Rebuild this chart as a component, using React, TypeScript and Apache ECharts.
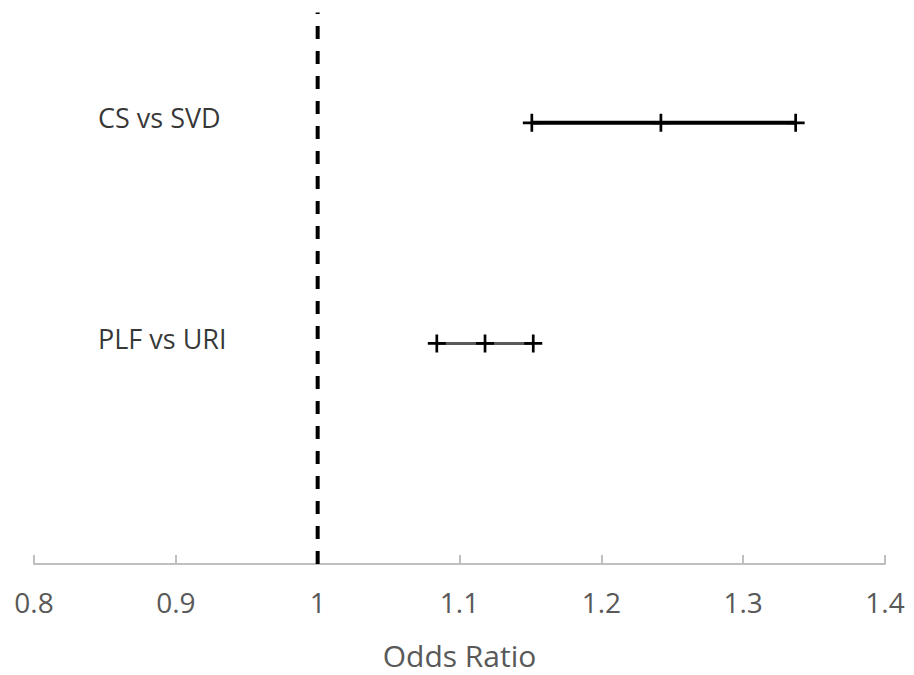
import React, { useEffect, useRef } from "react";
import * as echarts from "echarts";

const categories = ["CS vs SVD", "PLF vs URI"];
const yPositions = [2, 1];
const lowerCI = [1.151, 1.084];
const oddsRatio = [1.242, 1.118];
const upperCI = [1.337, 1.152];
const xTicks = [0.8, 0.9, 1, 1.1, 1.2, 1.3, 1.4];
const referenceValue = 1;

const PLUS =
  "path://M8.5,0 H11.5 V8.5 H20 V11.5 H11.5 V20 H8.5 V11.5 H0 V8.5 H8.5 Z";

export default function App() {
  const ref = useRef<HTMLDivElement>(null);

  useEffect(() => {
    document.body.style.margin = "0";
    if (!ref.current) return;
    const chart = echarts.init(ref.current, null, { renderer: "svg" });

    const lineColors = ["#000000", "#595959"];
    const lineWidths = [4, 3];

    const ciSeries = categories.map((c, i) => ({
      type: "line",
      name: c,
      data: [
        [lowerCI[i], yPositions[i]],
        [oddsRatio[i], yPositions[i]],
        [upperCI[i], yPositions[i]],
      ],
      symbol: PLUS,
      symbolSize: 18,
      showAllSymbol: true,
      itemStyle: { color: "#000000" },
      lineStyle: { color: lineColors[i], width: lineWidths[i] },
      z: 3,
    }));

    chart.setOption({
      animation: false,
      grid: { left: 34, right: 29, top: 12.5, bottom: 110 },
      xAxis: {
        type: "value",
        min: xTicks[0],
        max: xTicks[xTicks.length - 1],
        interval: 0.1,
        name: "Odds Ratio",
        nameLocation: "middle",
        nameGap: 76,
        nameTextStyle: {
          fontFamily: "Open Sans",
          fontSize: 30,
          color: "#595959",
        },
        axisLine: { show: true, lineStyle: { color: "#bfbfbf", width: 2 } },
        axisTick: {
          show: true,
          inside: true,
          length: 9,
          lineStyle: { color: "#bfbfbf", width: 2 },
        },
        axisLabel: {
          fontFamily: "Open Sans",
          fontSize: 28,
          color: "#595959",
          margin: 24,
          formatter: (v: number) => String(Math.round(v * 10) / 10),
        },
        splitLine: { show: false },
      },
      yAxis: {
        type: "value",
        min: 0,
        max: 2.5,
        show: false,
        splitLine: { show: false },
      },
      series: [
        {
          type: "line",
          data: [
            [referenceValue, 0],
            [referenceValue, 2.5],
          ],
          symbol: "none",
          lineStyle: { color: "#000000", width: 4, type: [13, 12] },
          z: 2,
        },
        ...ciSeries,
        {
          type: "scatter",
          data: categories.map((c, i) => ({
            value: [xTicks[0], yPositions[i]],
            name: c,
          })),
          symbolSize: 0,
          label: {
            show: true,
            position: "inside",
            align: "left",
            verticalAlign: "middle",
            offset: [64, -5],
            formatter: (p: any) => p.name,
            fontFamily: "Open Sans",
            fontSize: 27,
            color: "#000000",
          },
          z: 4,
        },
      ],
    });

    return () => chart.dispose();
  }, []);

  return <div ref={ref} style={{ width: 914, height: 675 }} />;
}
